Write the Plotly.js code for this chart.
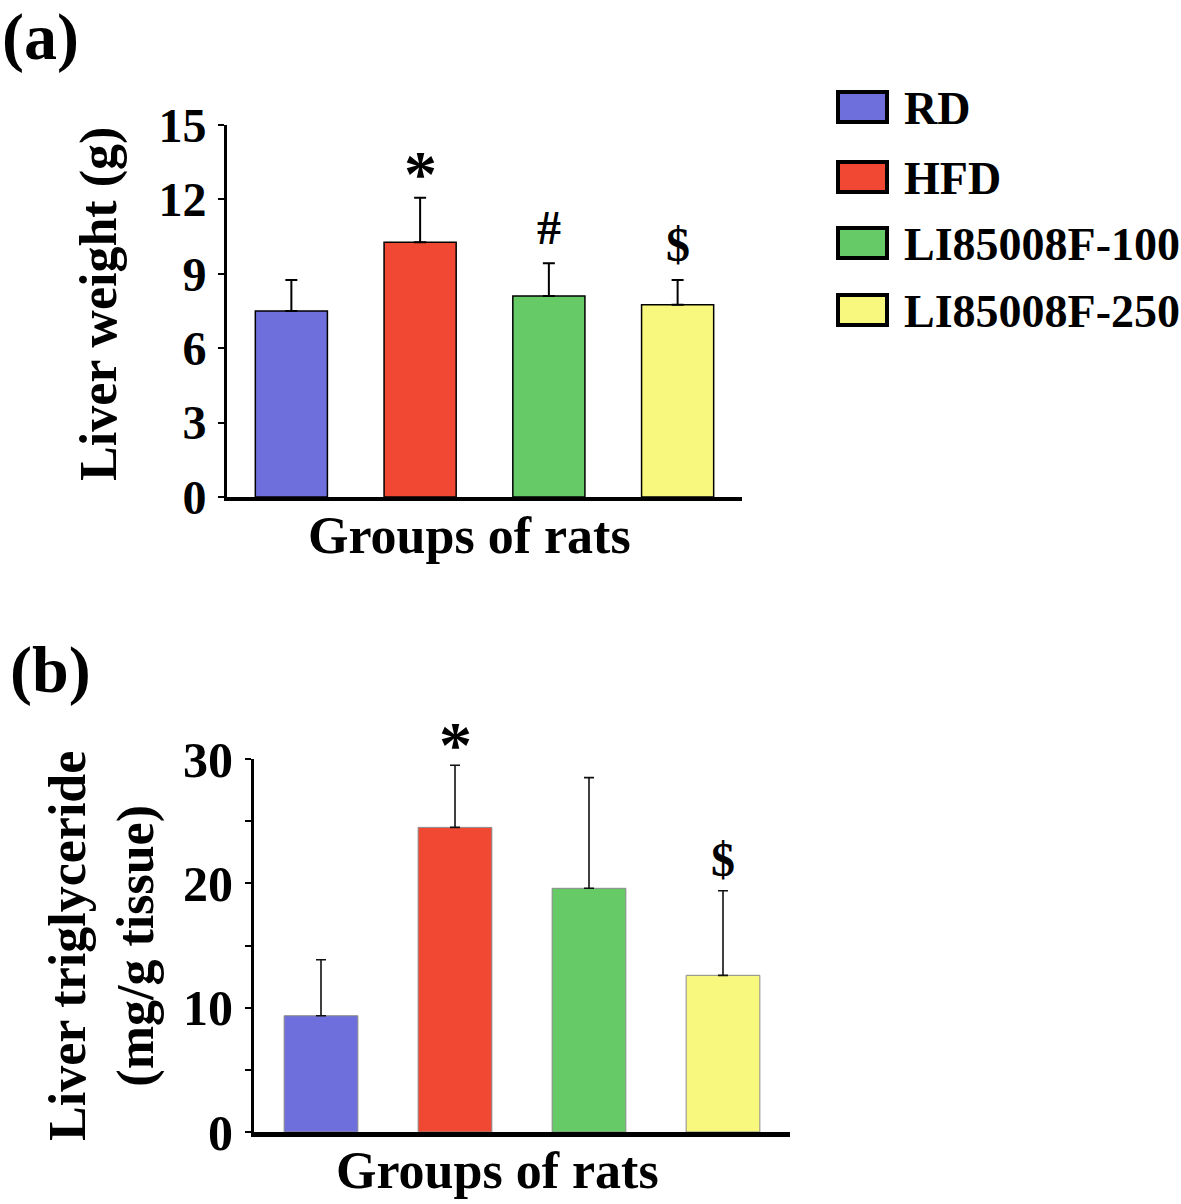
<!DOCTYPE html>
<html>
<head>
<meta charset="utf-8">
<script src="https://cdn.plot.ly/plotly-3.0.1.min.js"></script>
<style>html,body{margin:0;padding:0;background:#fff;}#chart{width:1181px;height:1204px;}</style>
</head>
<body>
<div id="chart"></div>
<script>
// ---- data ----
const groups = ['RD', 'HFD', 'LI85008F-100', 'LI85008F-250'];
const colors = ['#6e6edc', '#f04832', '#66cb66', '#f9f87e'];

// (a) Liver weight (g)
const liverWeight = [7.5, 10.27, 8.1, 7.75];
const liverWeightErr = [1.25, 1.8, 1.33, 1.0];
const liverWeightSig = ['', '*', '#', '$'];

// (b) Liver triglyceride (mg/g tissue)
const liverTG = [9.35, 24.5, 19.6, 12.6];
const liverTGErr = [4.5, 5.0, 8.9, 6.8];
const liverTGSig = ['', '*', '', '$'];

const yTicksA = [0, 3, 6, 9, 12, 15];
const yTicksB = [0, 10, 20, 30];

// ---- helpers ----
const W = 1181, H = 1204;
const px = x => x / W;
const py = y => 1 - y / H;
const FONT = 'Liberation Serif, Times New Roman, Times, serif';
const xIdx = groups.map((g, i) => i);

function font(size) { return {family: FONT, size: size, color: '#000', weight: 'bold'}; }
// significance-mark styling (size, vertical offset in px)
function sigStyle(s) {
  if (s === '*') return {size: 66, shift: -14};
  return {size: 48, shift: 7};
}

const traces = [
  {
    type: 'bar', x: xIdx, y: liverWeight, xaxis: 'x', yaxis: 'y',
    width: 0.56,
    marker: {color: colors, line: {color: '#000', width: 1.5}},
    error_y: {type: 'data', array: liverWeightErr, symmetric: false, arrayminus: liverWeight.map(() => 0),
              color: '#000', thickness: 2, width: 6},
    showlegend: false, hoverinfo: 'skip'
  },
  {
    type: 'bar', x: xIdx, y: liverTG, xaxis: 'x2', yaxis: 'y2',
    width: 0.55,
    marker: {color: colors, line: {color: '#8a8a8a', width: 1}},
    error_y: {type: 'data', array: liverTGErr, symmetric: false, arrayminus: liverTG.map(() => 0),
              color: '#111', thickness: 1.6, width: 5},
    showlegend: false, hoverinfo: 'skip'
  }
];

const annotations = [];
// significance marks
liverWeightSig.forEach((s, i) => {
  if (!s) return;
  const st = sigStyle(s);
  annotations.push({xref: 'x', yref: 'y', x: i, y: liverWeight[i] + liverWeightErr[i], text: s,
    showarrow: false, yanchor: 'bottom', yshift: st.shift, font: font(st.size)});
});
liverTGSig.forEach((s, i) => {
  if (!s) return;
  const st = sigStyle(s);
  annotations.push({xref: 'x2', yref: 'y2', x: i, y: liverTG[i] + liverTGErr[i], text: s,
    showarrow: false, yanchor: 'bottom', yshift: st.shift - 4, font: font(st.size)});
});
// panel labels and axis titles
annotations.push({xref: 'paper', yref: 'paper', x: px(0), y: py(37), xanchor: 'left', yanchor: 'middle',
  text: '(a)', showarrow: false, font: font(66)});
annotations.push({xref: 'paper', yref: 'paper', x: px(8), y: py(670), xanchor: 'left', yanchor: 'middle',
  text: '(b)', showarrow: false, font: font(66)});
annotations.push({xref: 'paper', yref: 'paper', x: px(99), y: py(304), xanchor: 'center', yanchor: 'middle',
  text: 'Liver weight (g)', textangle: -90, showarrow: false, font: font(52)});
annotations.push({xref: 'paper', yref: 'paper', x: px(469), y: py(535), xanchor: 'center', yanchor: 'middle',
  text: 'Groups of rats', showarrow: false, font: font(52)});
annotations.push({xref: 'paper', yref: 'paper', x: px(102), y: py(946), xanchor: 'center', yanchor: 'middle',
  text: 'Liver triglyceride<br>(mg/g tissue)', textangle: -90, showarrow: false, font: font(52)});
annotations.push({xref: 'paper', yref: 'paper', x: px(497), y: py(1170), xanchor: 'center', yanchor: 'middle',
  text: 'Groups of rats', showarrow: false, font: font(52)});

// legend built from groups/colors
const shapes = [];
const legendY = [107, 177, 243, 310];
groups.forEach((g, i) => {
  shapes.push({type: 'rect', xref: 'paper', yref: 'paper',
    x0: px(838), x1: px(887), y0: py(legendY[i] - 15), y1: py(legendY[i] + 15),
    fillcolor: colors[i], line: {color: '#000', width: 4}});
  annotations.push({xref: 'paper', yref: 'paper', x: px(902), y: py(legendY[i] + 1), xanchor: 'left', yanchor: 'middle',
    text: g, showarrow: false, font: font(46)});
});

const axisCommon = {
  showgrid: false, zeroline: false, showline: true, linecolor: '#000',
  ticks: 'outside', tickcolor: '#000', fixedrange: true
};

const layout = {
  width: W, height: H,
  margin: {l: 0, r: 0, t: 0, b: 0},
  paper_bgcolor: '#fff', plot_bgcolor: '#fff',
  showlegend: false,
  bargap: 0,
  xaxis: Object.assign({}, axisCommon, {
    domain: [px(227), px(742)], range: [-0.5, 3.5], anchor: 'y',
    showticklabels: false, ticks: '', linewidth: 4
  }),
  yaxis: Object.assign({}, axisCommon, {
    domain: [py(497), py(125)], range: [0, 15], anchor: 'x',
    tickvals: yTicksA, ticktext: yTicksA.map(String), ticklen: 6, tickwidth: 2,
    linewidth: 3, tickfont: font(48), ticklabelstandoff: 2
  }),
  xaxis2: Object.assign({}, axisCommon, {
    domain: [px(254), px(790)], range: [-0.5, 3.5], anchor: 'y2',
    showticklabels: false, ticks: '', linewidth: 5
  }),
  yaxis2: Object.assign({}, axisCommon, {
    domain: [py(1132), py(759)], range: [0, 30], anchor: 'x2',
    tickvals: yTicksB, ticktext: yTicksB.map(String), ticklen: 6, tickwidth: 2,
    minor: {tickvals: [5, 15, 25], ticks: 'outside', ticklen: 6, tickwidth: 2, tickcolor: '#000'},
    linewidth: 3, tickfont: font(50), ticklabelstandoff: 2
  }),
  shapes: shapes,
  annotations: annotations
};

Plotly.newPlot('chart', traces, layout, {displayModeBar: false, staticPlot: true});
</script>
</body>
</html>
